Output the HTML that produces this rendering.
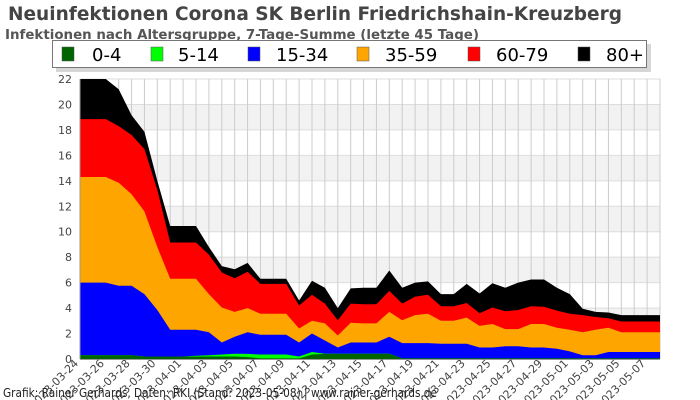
<!DOCTYPE html>
<html><head><meta charset="utf-8"><style>
body{margin:0;background:#fff;width:700px;height:400px;overflow:hidden;font-family:"DejaVu Sans","Liberation Sans",sans-serif}
</style></head><body>
<svg id="s" width="700" height="400" xmlns="http://www.w3.org/2000/svg" style="position:absolute;left:0;top:0;font-family:'DejaVu Sans','Liberation Sans',sans-serif">
<rect width="700" height="400" fill="#fff"/>
<g id="bg"></g>
<g id="areas"></g>
<line x1="80" y1="79" x2="80" y2="359" stroke="#999" stroke-width="1"/>
<line x1="80" y1="359.5" x2="660" y2="359.5" stroke="#999" stroke-width="1"/>
<g id="yl" font-size="11" fill="#444" text-anchor="end"></g>
<g id="xl" font-size="11" fill="#444" text-anchor="end"></g>
<text x="8" y="20" font-size="19" font-weight="bold" fill="#444" textLength="614" lengthAdjust="spacingAndGlyphs">Neuinfektionen Corona SK Berlin Friedrichshain-Kreuzberg</text>
<text x="5" y="39" font-size="13" font-weight="bold" fill="#555" textLength="474" lengthAdjust="spacingAndGlyphs">Infektionen nach Altersgruppe, 7-Tage-Summe (letzte 45 Tage)</text>
<rect x="56" y="44" width="595" height="28" fill="#bbb" opacity="0.6"/>
<rect x="52.5" y="40.5" width="594" height="27" fill="#fff" stroke="#777"/>
<g font-size="18" fill="#000">
<rect x="62" y="47" width="12" height="14" fill="#006400" stroke="#555" stroke-width="0.5"/><text x="92" y="61">0-4</text>
<rect x="151" y="47" width="12" height="14" fill="#00ff00" stroke="#555" stroke-width="0.5"/><text x="178" y="61">5-14</text>
<rect x="248" y="47" width="12" height="14" fill="#0000ff" stroke="#555" stroke-width="0.5"/><text x="276" y="61">15-34</text>
<rect x="357" y="47" width="12" height="14" fill="#ffa500" stroke="#555" stroke-width="0.5"/><text x="385" y="61">35-59</text>
<rect x="468" y="47" width="12" height="14" fill="#ff0000" stroke="#555" stroke-width="0.5"/><text x="496" y="61">60-79</text>
<rect x="578" y="47" width="12" height="14" fill="#000" stroke="#555" stroke-width="0.5"/><text x="606" y="61">80+</text>
</g>
<g id="foot"></g>
</svg>
<script>
var NS="http://www.w3.org/2000/svg";
function el(t,a,p,txt){var e=document.createElementNS(NS,t);for(var k in a)e.setAttribute(k,a[k]);if(txt!==undefined)e.textContent=txt;document.getElementById(p).appendChild(e);return e;}
var X0=80,DX=(660-80)/45,Y0=359,SY=280/22;
function X(i){return X0+DX*i}function Y(v){return Y0-v*SY}
for(var v=0;v<22;v+=2){ if(v%4==2) el("rect",{x:80,y:Y(v+2),width:580,height:2*SY,fill:"#f2f2f2"},"bg"); }
for(var v=0;v<=22;v+=2) el("line",{x1:80,x2:660,y1:Y(v),y2:Y(v),stroke:"#ddd"},"bg");
for(var i=0;i<46;i++) el("line",{x1:X(i),x2:X(i),y1:79,y2:359,stroke:"#ccc"},"bg");
var g0=[.3,.3,.3,.3,.3,.2,.2,.2,.2,.2,.2,.2,.2,.15,.05,.05,.05,.05,.35,.4,.4,.4,.4,.4,.4,.05,.05,.05,.05,.05,.05,.05,.05,.05,.05,.05,.05,.05,.05,.05,.05,.05,.05,.05,.05,.05];
var g1=[.3,.3,.3,.3,.3,.2,.2,.2,.2,.25,.3,.35,.42,.4,.35,.35,.35,.2,.55,.42,.42,.42,.42,.42,.42,.05,.05,.05,.05,.05,.05,.05,.05,.05,.05,.05,.05,.05,.05,.05,.05,.05,.05,.05,.05,.05];
var b=[6,6,6,5.75,5.75,5.1,3.85,2.3,2.3,2.3,2.1,1.3,1.75,2.1,1.9,1.9,1.9,1.3,2,1.45,.9,1.3,1.3,1.3,1.75,1.25,1.25,1.25,1.2,1.2,1.2,.9,.9,1,1,.9,.9,.8,.6,.3,.3,.55,.55,.55,.55,.55];
var o=[14.3,14.3,14.3,13.85,12.95,11.6,8.8,6.3,6.3,6.3,5.1,4.05,3.7,4,3.55,3.55,3.55,2.4,3,2.8,1.85,2.85,2.8,2.8,3.7,3.05,3.45,3.55,3,3,3.25,2.6,2.75,2.35,2.35,2.75,2.75,2.45,2.3,2.1,2.3,2.45,2.1,2.1,2.1,2.1];
var r=[18.85,18.85,18.85,18.3,17.6,16.5,13.3,9.15,9.15,9.15,8.2,6.8,6.35,6.85,5.9,5.9,5.9,4.2,5.05,4.35,3.05,4.35,4.3,4.3,5.35,4.35,4.9,5.05,4.15,4.15,4.4,3.6,4.05,3.75,3.85,4.15,4.1,3.8,3.55,3.45,3.3,3.2,2.95,2.95,2.95,2.95];
var k=[22,22,22,21.2,19.15,17.85,14,10.45,10.45,10.45,8.8,7.3,7.05,7.55,6.3,6.3,6.3,4.6,6.15,5.6,4,5.55,5.6,5.6,6.95,5.6,6,6.1,5.1,5.1,5.9,5.15,5.95,5.6,6,6.25,6.25,5.6,5.1,3.95,3.7,3.65,3.45,3.45,3.45,3.45];
var series=[[k,"#000"],[r,"#f00"],[o,"#ffa500"],[b,"#00f"],[g1,"#0f0"],[g0,"#006400"]];
series.forEach(function(s){var d="M"+X(0)+","+Y0;for(var i=0;i<46;i++)d+=" L"+X(i).toFixed(1)+","+Y(s[0][i]).toFixed(1);d+=" L"+X(45)+","+Y0+"Z";el("path",{d:d,fill:s[1]},"areas");});
for(var v=0;v<=22;v+=2) el("text",{x:72,y:Y(v)+4},"yl",String(v));
var d0=new Date(Date.UTC(2023,2,24));
for(var i=0;i<46;i+=2){var dt=new Date(d0.getTime()+i*86400000);var s=dt.toISOString().slice(0,10);
var x=X(i)-1,y=364;el("text",{x:x,y:y,transform:"rotate(-45 "+x+" "+y+")"},"xl",s);}
el("text",{x:3,y:397,"font-size":"12",fill:"#222",textLength:"434",lengthAdjust:"spacingAndGlyphs"},"foot","Grafik: Rainer Gerhards, Daten: RKI (Stand: 2023-05-08) | www.rainer-gerhards.de");
</script>
</body></html>
